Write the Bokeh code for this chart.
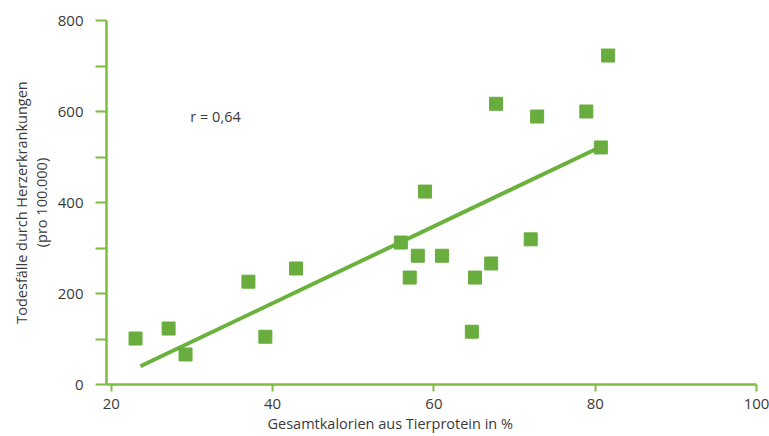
from bokeh.plotting import figure
from bokeh.models import FixedTicker, Range1d, Label, Title
from bokeh.embed import file_html
from bokeh.resources import INLINE

# data
protein_pct = [23.0, 27.1, 29.2, 37.0, 39.1, 42.9, 55.9, 57.0, 58.0, 58.9,
               61.0, 64.7, 65.1, 67.1, 67.7, 72.0, 72.8, 78.9, 80.7, 81.6]
deaths = [101, 123, 66, 226, 105, 255, 312, 235, 283, 424,
          283, 116, 235, 266, 617, 319, 589, 600, 521, 723]
fit_x = [23.6, 80.5]
fit_y = [40, 521]
x_ticks = [20, 40, 60, 80, 100]
y_ticks = [0, 200, 400, 600, 800]
y_minor = [100, 300, 500, 700]
r_text = "r = 0,64"
x_title = "Gesamtkalorien aus Tierprotein in %"
y_title = "Todesfälle durch Herzerkrankungen\n(pro 100.000)"

GREEN = "#68ad3e"
AXIS_GREEN = "#7dbd3f"
TXT = "#3a3a3a"
FONT = "Open Sans"

p = figure(width=769, height=436, output_backend="svg", toolbar_location=None,
           x_range=Range1d(19.4, 100), y_range=Range1d(0, 800),
           min_border_left=106, min_border_right=13, min_border_top=20,
           min_border_bottom=52)
p.outline_line_color = None
p.grid.visible = False
p.background_fill_color = "white"

p.line(fit_x, fit_y, line_color="#6ab23c", line_width=4)
p.scatter(protein_pct, deaths, marker="square", size=13, fill_color=GREEN,
          line_color=GREEN)

p.add_layout(Label(x=29.8, y=590, text=r_text, text_font=FONT,
                   text_font_size="14.5px", text_color=TXT,
                   text_baseline="middle"))

for ax in (p.xaxis[0], p.yaxis[0]):
    ax.axis_line_color = AXIS_GREEN
    ax.axis_line_width = 2.5
    ax.major_tick_line_color = AXIS_GREEN
    ax.minor_tick_line_color = AXIS_GREEN
    ax.major_tick_line_width = 2
    ax.minor_tick_line_width = 2
    ax.major_tick_in = 0
    ax.minor_tick_in = 0
    ax.major_label_text_font = FONT
    ax.major_label_text_font_size = "15px"
    ax.major_label_text_color = TXT
    ax.axis_label_text_font = FONT
    ax.axis_label_text_font_size = "14.5px"
    ax.axis_label_text_font_style = "normal"
    ax.axis_label_text_color = TXT
    ax.axis_label_text_line_height = 1.05

p.xaxis.ticker = FixedTicker(ticks=x_ticks)
p.xaxis.major_tick_out = 7
p.xaxis.minor_tick_out = 0
p.xaxis.major_label_standoff = 7

p.yaxis.ticker = FixedTicker(ticks=y_ticks, minor_ticks=y_minor)
p.yaxis.major_tick_out = 11
p.yaxis.minor_tick_out = 11
p.yaxis.major_label_standoff = 12
p.yaxis.axis_label = y_title
p.yaxis.axis_label_standoff = 4

# x-axis title, set slightly left of centre as in the original
p.add_layout(Title(text=x_title, align="left", offset=161, standoff=0,
                   text_font=FONT, text_font_size="14.5px",
                   text_font_style="normal", text_color=TXT), "below")

open("out.html", "w").write(file_html(p, INLINE))
